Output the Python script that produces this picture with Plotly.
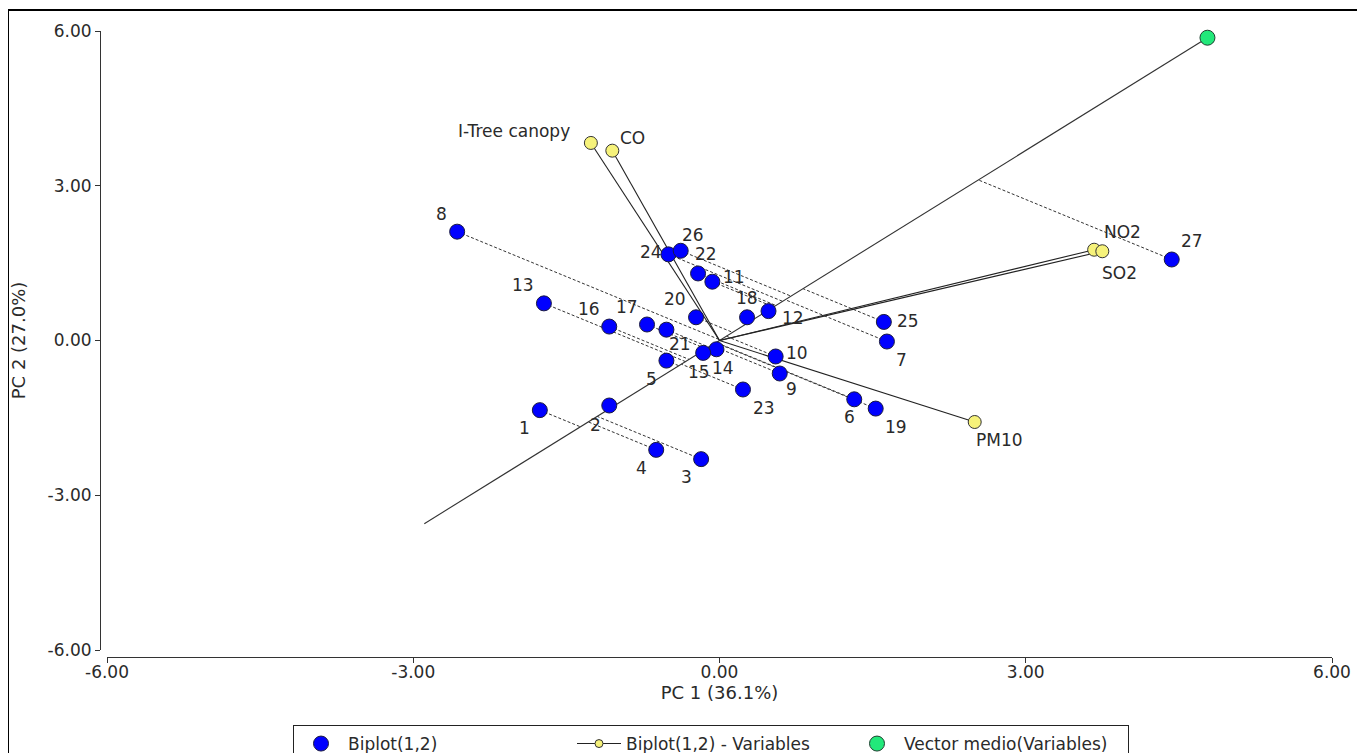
import math
import plotly.graph_objects as go

# ---------------- data ----------------
obs_labels = [str(i) for i in range(1, 28)]
obs_pc1 = [-1.76, -1.08, -0.18, -0.62, -0.52, 1.32, 1.64, -2.57, 0.59, 0.55,
           -0.07, 0.48, -1.72, -0.03, -0.16, -1.08, -0.71, 0.27, 1.53, -0.23,
           -0.52, -0.21, 0.23, -0.50, 1.61, -0.38, 4.43]
obs_pc2 = [-1.35, -1.26, -2.30, -2.12, -0.39, -1.14, -0.02, 2.11, -0.64, -0.31,
           1.14, 0.57, 0.72, -0.17, -0.24, 0.27, 0.31, 0.45, -1.32, 0.45,
           0.21, 1.30, -0.95, 1.67, 0.36, 1.74, 1.57]

var_names = ["I-Tree canopy", "CO", "NO2", "SO2", "PM10"]
var_pc1 = [-1.26, -1.05, 3.67, 3.75, 2.50]
var_pc2 = [3.83, 3.68, 1.76, 1.73, -1.58]

mean_vec = [4.78, 5.87]
mean_back = -0.605

tick_vals = [-6, -3, 0, 3, 6]
tick_text = [f"{v:.2f}" for v in tick_vals]

# ---------------- label offsets (style, pixels: right, down) ----------------
obs_label_dx = [-15, -14, -15, -15, -15, -5, 15, -16, 12, 21,
                22, 24, -21, 7, -4, -20, -20, 0, 20, -21,
                14, 8, 21, -17, 24, 12, 20]
obs_label_dy = [18, 19, 18, 18, 18, 18, 18, -18, 15, -3,
                -5, 7, -18, 19, 19, -18, -18, -19, 18, -18,
                14, -19, 18, -2, -1, -16, -19]
var_label_dx = [-77, 20, 28, 17, 25]
var_label_dy = [-12, -13, -18, 22, 18]

FONT = "DejaVu Sans"
TXT = "#2a2a2a"

# projections of observations onto the mean-vector axis
nrm = math.hypot(mean_vec[0], mean_vec[1])
ux, uy = mean_vec[0] / nrm, mean_vec[1] / nrm
proj_x, proj_y = [], []
for x, y in zip(obs_pc1, obs_pc2):
    t = x * ux + y * uy
    proj_x += [x, t * ux, None]
    proj_y += [y, t * uy, None]

vec_x, vec_y = [], []
for x, y in zip(var_pc1, var_pc2):
    vec_x += [0, x, None]
    vec_y += [0, y, None]

fig = go.Figure()

fig.add_trace(go.Scatter(x=proj_x, y=proj_y, mode="lines",
                         line=dict(color="#333333", width=1, dash="3px,2px"),
                         showlegend=False, hoverinfo="skip"))
fig.add_trace(go.Scatter(x=[mean_back * mean_vec[0], mean_vec[0]],
                         y=[mean_back * mean_vec[1], mean_vec[1]], mode="lines",
                         line=dict(color="#333333", width=1.1),
                         showlegend=False, hoverinfo="skip"))
fig.add_trace(go.Scatter(x=vec_x, y=vec_y, mode="lines",
                         line=dict(color="#222222", width=1.1),
                         showlegend=False, hoverinfo="skip"))

fig.add_trace(go.Scatter(x=obs_pc1, y=obs_pc2, mode="markers",
                         marker=dict(color="#0000FF", size=15,
                                     line=dict(color="#1a1a40", width=1)),
                         name="Biplot(1,2)", legendrank=1, cliponaxis=False))
fig.add_trace(go.Scatter(x=var_pc1, y=var_pc2, mode="markers",
                         marker=dict(color="#F6F27A", size=13,
                                     line=dict(color="#333333", width=1)),
                         showlegend=False, cliponaxis=False))
fig.add_trace(go.Scatter(x=[None], y=[None], mode="lines+markers",
                         line=dict(color="#222222", width=1.1),
                         marker=dict(color="#F6F27A", size=8,
                                     line=dict(color="#333333", width=1)),
                         name="Biplot(1,2) - Variables", legendrank=2))
fig.add_trace(go.Scatter(x=[mean_vec[0]], y=[mean_vec[1]], mode="markers",
                         marker=dict(color="#22E87A", size=15,
                                     line=dict(color="#1f4030", width=1)),
                         name="Vector medio(Variables)", legendrank=3, cliponaxis=False))

annotations = []
for lab, x, y, dx, dy in zip(obs_labels, obs_pc1, obs_pc2, obs_label_dx, obs_label_dy):
    annotations.append(dict(x=x, y=y, xref="x", yref="y", text=lab, showarrow=False,
                            xshift=dx, yshift=-dy, xanchor="center", yanchor="middle",
                            font=dict(family=FONT, size=17, color=TXT)))
for lab, x, y, dx, dy in zip(var_names, var_pc1, var_pc2, var_label_dx, var_label_dy):
    annotations.append(dict(x=x, y=y, xref="x", yref="y", text=lab, showarrow=False,
                            xshift=dx, yshift=-dy, xanchor="center", yanchor="middle",
                            font=dict(family=FONT, size=17, color=TXT)))

axis_common = dict(
    range=[-6, 6], tickvals=tick_vals, ticktext=tick_text,
    showgrid=False, zeroline=False, showline=True, linecolor="#333333", linewidth=1,
    ticks="outside", ticklen=5, tickcolor="#333333",
    tickfont=dict(family=FONT, size=17, color=TXT),
    anchor="free",
)

fig.update_layout(
    width=1365, height=753,
    margin=dict(l=87, r=41, t=23, b=98, autoexpand=False),
    paper_bgcolor="white", plot_bgcolor="white",
    xaxis=dict(**axis_common, domain=[12 / 1237, 1], position=6 / 632,
               ticklabelstandoff=-5,
               title=dict(text="PC 1 (36.1%)", font=dict(family=FONT, size=18, color=TXT),
                          standoff=1)),
    yaxis=dict(**axis_common, domain=[13 / 632, 1], position=5 / 1237,
               title=dict(text="PC 2 (27.0%)", font=dict(family=FONT, size=18, color=TXT),
                          standoff=16)),
    legend=dict(orientation="h", x=(293 - 95) / 1237, xanchor="left",
                y=(663 - 725) / 632, yanchor="top",
                bordercolor="#222222", borderwidth=1, bgcolor="white",
                font=dict(family=FONT, size=17, color=TXT),
                entrywidth=219, itemwidth=44, itemsizing="trace"),
    annotations=annotations,
    shapes=[dict(type="rect", xref="paper", yref="paper",
                 x0=-87 / 1237, x1=1 + 26 / 1237, y0=-0.2, y1=1 + 21 / 632,
                 line=dict(color="black", width=2), fillcolor="rgba(0,0,0,0)")],
)

fig.write_html("out.html")
